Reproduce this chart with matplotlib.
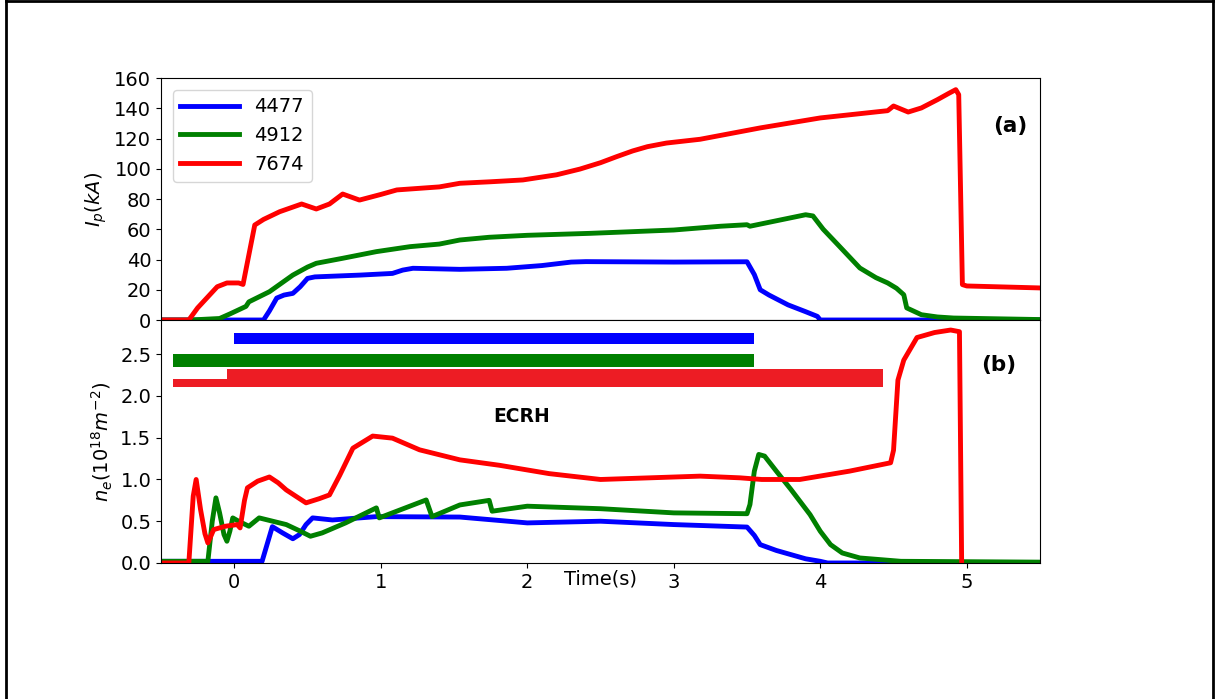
import matplotlib
matplotlib.use('Agg')
import matplotlib.pyplot as plt
from matplotlib.lines import Line2D

# Plasma current Ip (kA) for the three shots
ip_4477_t = [-0.5, 0.2, 0.24, 0.29, 0.34, 0.40, 0.45, 0.5, 0.55, 0.86, 1.08, 1.15, 1.22, 1.54, 1.86, 2.1,
             2.3, 2.4, 3.0, 3.5, 3.55, 3.59, 3.65, 3.78, 3.9, 3.98, 4.0, 5.5]
ip_4477 = [0, 0, 6, 14.5, 16.5, 17.6, 22, 27.5, 28.5, 29.7, 30.8, 33, 34.2, 33.5, 34.2, 36,
           38.3, 38.6, 38.3, 38.5, 30, 20, 16.5, 10, 5.5, 2.4, 0, 0]

ip_4912_t = [-0.5, -0.3, -0.1, -0.03, 0.08, 0.1, 0.24, 0.40, 0.5, 0.56, 0.74, 0.97, 1.2, 1.4, 1.54, 1.74, 2.0,
             2.43, 3.0, 3.32, 3.5, 3.52, 3.9, 3.95, 4.02, 4.12, 4.27, 4.38, 4.46, 4.52, 4.57, 4.59, 4.69,
             4.8, 4.91, 5.5]
ip_4912 = [0, 0, 1, 4, 9, 12, 18.7, 29.7, 35, 37.5, 40.8, 45.2, 48.5, 50.2, 52.9, 54.7, 56,
           57.3, 59.5, 62, 63, 62, 69.6, 68.8, 60, 49.8, 34.4, 28, 24.5, 21, 16.7, 8, 3.5,
           2, 1.3, 0.3]

ip_7674_t = [-0.5, -0.31, -0.25, -0.116, -0.05, 0.03, 0.06, 0.14, 0.2, 0.31, 0.46, 0.56, 0.65, 0.74,
             0.855, 1.0, 1.11, 1.40, 1.54, 1.75, 1.97, 2.2, 2.36, 2.5, 2.61, 2.72, 2.82, 2.95, 3.18,
             3.59, 4.0, 4.46, 4.5, 4.6, 4.69, 4.80, 4.88, 4.925, 4.945, 4.97, 5.0, 5.5]
ip_7674 = [0, 0, 8, 22, 24.5, 24.5, 23.5, 62.8, 66.5, 71.6, 76.7, 73.4, 76.7, 83.3,
           79.3, 83, 86, 88, 90.4, 91.4, 92.6, 96, 99.8, 104, 108, 111.8, 114.6, 117, 119.5,
           127, 133.6, 138.4, 141.5, 137.5, 140.2, 145.7, 150, 152.3, 149, 23.4, 22.5, 21.2]

# Line-integrated density ne (1e18 m^-2)
ne_4477_t = [-0.5, 0.19, 0.26, 0.33, 0.40, 0.445, 0.49, 0.535, 0.67, 0.97, 1.54, 2.0, 2.5, 3.0, 3.5,
             3.55, 3.59, 3.7, 3.8, 3.9, 4.0, 4.05, 5.5]
ne_4477 = [0.02, 0.02, 0.435, 0.36, 0.29, 0.34, 0.46, 0.54, 0.515, 0.555, 0.55, 0.48, 0.5, 0.46, 0.43,
           0.33, 0.22, 0.15, 0.1, 0.05, 0.02, 0, 0]

ne_4912_t = [-0.5, -0.18, -0.15, -0.125, -0.1, -0.07, -0.05, -0.03, -0.01, 0.03, 0.1, 0.17, 0.355, 0.44,
             0.52, 0.6, 0.76, 0.97, 0.99, 1.31, 1.35, 1.54, 1.74, 1.76, 2.0, 2.5, 3.0, 3.5, 3.52, 3.55,
             3.58, 3.62, 3.7, 3.8, 3.93, 4.0, 4.07, 4.15, 4.27, 4.55, 5.5]
ne_4912 = [0.02, 0.02, 0.5, 0.78, 0.6, 0.34, 0.26, 0.38, 0.54, 0.5, 0.44, 0.54, 0.46, 0.39,
           0.32, 0.36, 0.48, 0.66, 0.54, 0.755, 0.555, 0.695, 0.75, 0.62, 0.68, 0.65, 0.6, 0.59, 0.7, 1.1,
           1.3, 1.28, 1.1, 0.88, 0.58, 0.38, 0.22, 0.12, 0.06, 0.02, 0.01]

ne_7674_t = [-0.5, -0.31, -0.28, -0.26, -0.23, -0.2, -0.18, -0.14, -0.06, 0.02, 0.04, 0.07, 0.09, 0.16,
             0.24, 0.3, 0.355, 0.42, 0.49, 0.58, 0.65, 0.72, 0.81, 0.945, 1.08, 1.265, 1.54, 1.81,
             2.15, 2.5, 2.84, 3.18, 3.45, 3.6, 3.86, 4.2, 4.48, 4.5, 4.53, 4.57, 4.66, 4.78, 4.89,
             4.95, 4.965]
ne_7674 = [0, 0, 0.8, 1.0, 0.64, 0.35, 0.24, 0.4, 0.44, 0.46, 0.42, 0.75, 0.9, 0.98,
           1.03, 0.96, 0.875, 0.8, 0.72, 0.77, 0.815, 1.05, 1.375, 1.52, 1.495, 1.355, 1.235, 1.17,
           1.07, 1.0, 1.02, 1.04, 1.02, 1.0, 1.0, 1.1, 1.2, 1.35, 2.19, 2.43, 2.70, 2.76, 2.79,
           2.77, 0]

# ECRH pulse windows (start, end) for the timing bars
ecrh_4477 = (0.0, 3.55)
ecrh_4912 = (-0.42, 3.55)
ecrh_7674_low = (-0.42, -0.05)
ecrh_7674 = (-0.05, 4.43)

shots = ['4477', '4912', '7674']
colors = ['blue', 'green', 'red']

plt.rcParams['font.size'] = 14

fig = plt.figure(figsize=(12.15, 6.99), dpi=100)
ax1 = fig.add_axes([0.1325, 0.5422, 0.7235, 0.3462])
ax2 = fig.add_axes([0.1325, 0.1946, 0.7235, 0.3476], sharex=ax1)

lw = 3.5
ax1.plot(ip_4477_t, ip_4477, color=colors[0], lw=lw, label=shots[0])
ax1.plot(ip_4912_t, ip_4912, color=colors[1], lw=lw, label=shots[1])
ax1.plot(ip_7674_t, ip_7674, color=colors[2], lw=lw, label=shots[2])
ax1.set_ylim(0, 160)
ax1.set_yticks(range(0, 161, 20))
ax1.set_ylabel(r'$I_p(kA)$')
ax1.tick_params(labelbottom=False, bottom=False)
ax1.legend(loc='upper left', handlelength=3, fontsize=14, borderaxespad=0.6)
ax1.text(5.30, 128, '(a)', fontsize=15.5, fontweight='bold', ha='center', va='center')

ax2.plot(ne_4477_t, ne_4477, color=colors[0], lw=lw)
ax2.plot(ne_4912_t, ne_4912, color=colors[1], lw=lw)
ax2.plot(ne_7674_t, ne_7674, color=colors[2], lw=lw)

# ECRH timing bars
ax2.barh(2.686, ecrh_4477[1] - ecrh_4477[0], left=ecrh_4477[0], height=0.135, color='blue')
ax2.barh(2.43, ecrh_4912[1] - ecrh_4912[0], left=ecrh_4912[0], height=0.155, color='green')
ax2.barh(2.158, ecrh_7674_low[1] - ecrh_7674_low[0], left=ecrh_7674_low[0], height=0.096, color='#ED1C24')
ax2.barh(2.218, ecrh_7674[1] - ecrh_7674[0], left=ecrh_7674[0], height=0.216, color='#ED1C24')

ax2.text(1.96, 1.76, 'ECRH', fontsize=13.5, fontweight='bold', ha='center', va='center')
ax2.text(5.22, 2.37, '(b)', fontsize=15.5, fontweight='bold', ha='center', va='center')

ax2.set_ylim(0, 2.91)
ax2.set_yticks([0.0, 0.5, 1.0, 1.5, 2.0, 2.5])
ax2.set_ylabel(r'$n_e(10^{18}m^{-2})$')
ax2.set_xlim(-0.5, 5.5)
ax2.set_xticks(range(0, 6))
ax2.set_xlabel('Time(s)', labelpad=-16)

# frame around the figure
for xs, ys in [([0.005, 0.005], [0, 1]), ([0.005, 0.998], [0.998, 0.998]), ([0.998, 0.998], [0, 1])]:
    fig.add_artist(Line2D(xs, ys, color='black', lw=2, transform=fig.transFigure))

fig.savefig('out.png', dpi=100)
